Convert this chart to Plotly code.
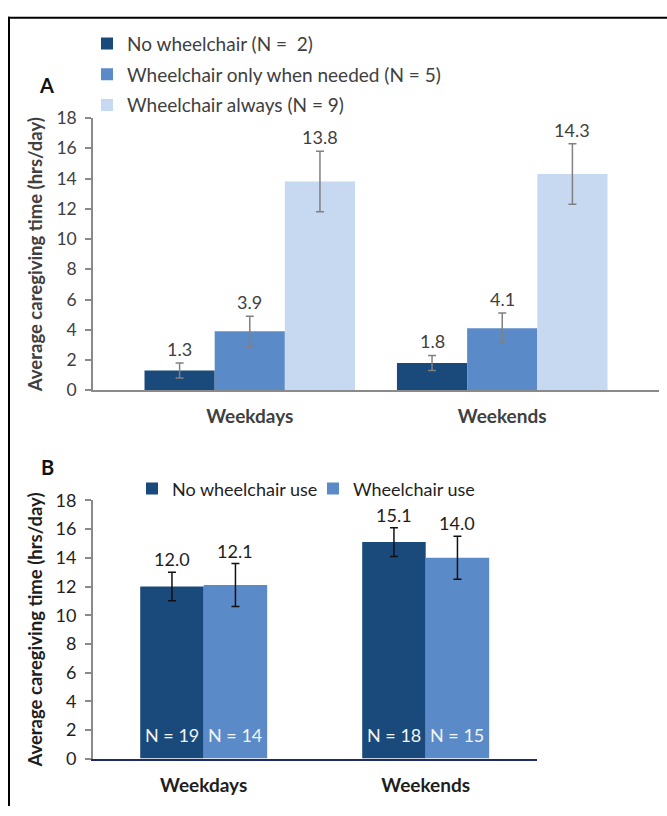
import plotly.graph_objects as go

# ---------------- data ----------------
categories = ["Weekdays", "Weekends"]

a_names = ["No wheelchair (N =  2)", "Wheelchair only when needed (N = 5)", "Wheelchair always (N = 9)"]
a_values = [[1.3, 1.8], [3.9, 4.1], [13.8, 14.3]]
a_errors = [[0.5, 0.5], [1.0, 1.0], [2.0, 2.0]]

b_names = ["No wheelchair use", "Wheelchair use"]
b_values = [[12.0, 15.1], [12.1, 14.0]]
b_errors = [[1.0, 1.0], [1.5, 1.5]]
b_counts = [["N = 19", "N = 18"], ["N = 14", "N = 15"]]

yticks = [0, 2, 4, 6, 8, 10, 12, 14, 16, 18]

# ---------------- style ----------------
W, H = 667, 816
FONT = "Lato"
colors_a = ["#1a4a7b", "#5a8bc8", "#c6d9f0"]
colors_b = ["#1a4a7b", "#5a8bc8"]
GREY_TXT = "#404040"
DARK_TXT = "#1e1e1e"
AXIS_GREY = "#8a8a8a"

bw_a = 0.278
bw_b = 0.286

def px_x(p):
    return p / W

def px_y(p):
    return 1 - p / H

fig = go.Figure()
annotations = []

# ---- Panel A ----
n = len(a_names)
for k in range(n):
    xs = [i + (k - (n - 1) / 2) * bw_a for i in range(len(categories))]
    fig.add_trace(go.Bar(
        x=xs, y=a_values[k], width=bw_a, name=a_names[k],
        marker=dict(color=colors_a[k], line=dict(width=0)),
        error_y=dict(type="data", array=a_errors[k], color="#808080", thickness=1.5, width=4),
        xaxis="x", yaxis="y", legend="legend", legendgroup="a%d" % k,
    ))
    for x, v, e in zip(xs, a_values[k], a_errors[k]):
        annotations.append(dict(x=x, y=v + e, xref="x", yref="y", text="%.1f" % v,
                                showarrow=False, xanchor="center", yanchor="bottom", yshift=1,
                                font=dict(family=FONT, size=18, color=GREY_TXT)))

# ---- Panel B ----
n = len(b_names)
for k in range(n):
    xs = [i + (k - (n - 1) / 2) * bw_b for i in range(len(categories))]
    fig.add_trace(go.Bar(
        x=xs, y=b_values[k], width=bw_b, name=b_names[k],
        marker=dict(color=colors_b[k], line=dict(width=0)),
        error_y=dict(type="data", array=b_errors[k], color="#111111", thickness=1.5, width=4),
        xaxis="x2", yaxis="y2", legend="legend2",
    ))
    for x, v, e, c in zip(xs, b_values[k], b_errors[k], b_counts[k]):
        annotations.append(dict(x=x, y=v + e, xref="x2", yref="y2", text="%.1f" % v,
                                showarrow=False, xanchor="center", yanchor="bottom", yshift=0,
                                font=dict(family=FONT, size=18, color=DARK_TXT)))
        annotations.append(dict(x=x, y=0, xref="x2", yref="y2", text=c,
                                showarrow=False, xanchor="center", yanchor="middle", yshift=24,
                                font=dict(family=FONT, size=18, color="#f2f2f2")))

# panel letters
annotations.append(dict(x=px_x(46), y=px_y(75), xref="paper", yref="paper", text="<b>A</b>",
                        xanchor="center", yanchor="middle",
                        showarrow=False, font=dict(family=FONT, size=20, color="#111111")))
annotations.append(dict(x=px_x(48), y=px_y(468), xref="paper", yref="paper", text="<b>B</b>",
                        xanchor="center", yanchor="middle",
                        showarrow=False, font=dict(family=FONT, size=20, color="#111111")))

ytitle = "Average caregiving time (hrs/day)"

fig.update_layout(
    width=W, height=H,
    margin=dict(l=0, r=0, t=0, b=0),
    paper_bgcolor="white", plot_bgcolor="white",
    barmode="overlay",
    font=dict(family=FONT),
    annotations=annotations,
    xaxis=dict(domain=[px_x(93), px_x(659)], range=[-0.621, 1.621],
               tickvals=list(range(len(categories))), ticktext=categories,
               tickfont=dict(family=FONT, size=19, color=GREY_TXT, weight="bold"),
               ticks="", ticklabelstandoff=8,
               showline=True, linecolor=AXIS_GREY, linewidth=1.5,
               showgrid=False, zeroline=False, anchor="y"),
    yaxis=dict(domain=[px_y(388.7), px_y(109)], range=[0, 18], tickvals=yticks,
               tickfont=dict(family=FONT, size=17.5, color=GREY_TXT),
               ticks="outside", ticklen=6, tickcolor=AXIS_GREY, tickwidth=1.5,
               ticklabelstandoff=5,
               showline=True, linecolor=AXIS_GREY, linewidth=1.5,
               showgrid=False, zeroline=False, anchor="x",
               title=dict(text=ytitle, standoff=9,
                          font=dict(family=FONT, size=18.5, color=GREY_TXT, weight="bold"))),
    xaxis2=dict(domain=[px_x(92.7), px_x(536.7)], range=[-0.5, 1.5],
                tickvals=list(range(len(categories))), ticktext=categories,
                tickfont=dict(family=FONT, size=19, color=DARK_TXT, weight="bold"),
                ticks="", ticklabelstandoff=9,
                showline=True, linecolor="#1f2a6b", linewidth=1.5,
                showgrid=False, zeroline=False, anchor="y2"),
    yaxis2=dict(domain=[px_y(767.3), px_y(502)], range=[0, 18], tickvals=yticks,
                tickfont=dict(family=FONT, size=18, color=DARK_TXT),
                ticks="outside", ticklen=6, tickcolor=AXIS_GREY, tickwidth=1.5,
                ticklabelstandoff=5,
                showline=True, linecolor=AXIS_GREY, linewidth=1.5,
                showgrid=False, zeroline=False, anchor="x2",
                title=dict(text=ytitle, standoff=8,
                           font=dict(family=FONT, size=18.5, color=DARK_TXT, weight="bold"))),
    legend=dict(x=px_x(87), y=px_y(13), xanchor="left", yanchor="top",
                orientation="v", tracegroupgap=3, bgcolor="rgba(0,0,0,0)",
                font=dict(family=FONT, size=19, color=GREY_TXT)),
    legend2=dict(x=px_x(132), y=px_y(471), xanchor="left", yanchor="top",
                 orientation="h", bgcolor="rgba(0,0,0,0)", entrywidth=136,
                 font=dict(family=FONT, size=18, color=DARK_TXT)),
    shapes=[
        dict(type="line", xref="paper", yref="paper", x0=px_x(9), x1=px_x(9), y0=px_y(5), y1=0,
             line=dict(color="black", width=2)),
        dict(type="line", xref="paper", yref="paper", x0=px_x(8), x1=1, y0=px_y(6), y1=px_y(6),
             line=dict(color="black", width=2)),
    ],
)

fig.write_html("out.html", config={"displayModeBar": False},
               post_script="document.body.style.margin='0';document.body.style.overflow='hidden';")
